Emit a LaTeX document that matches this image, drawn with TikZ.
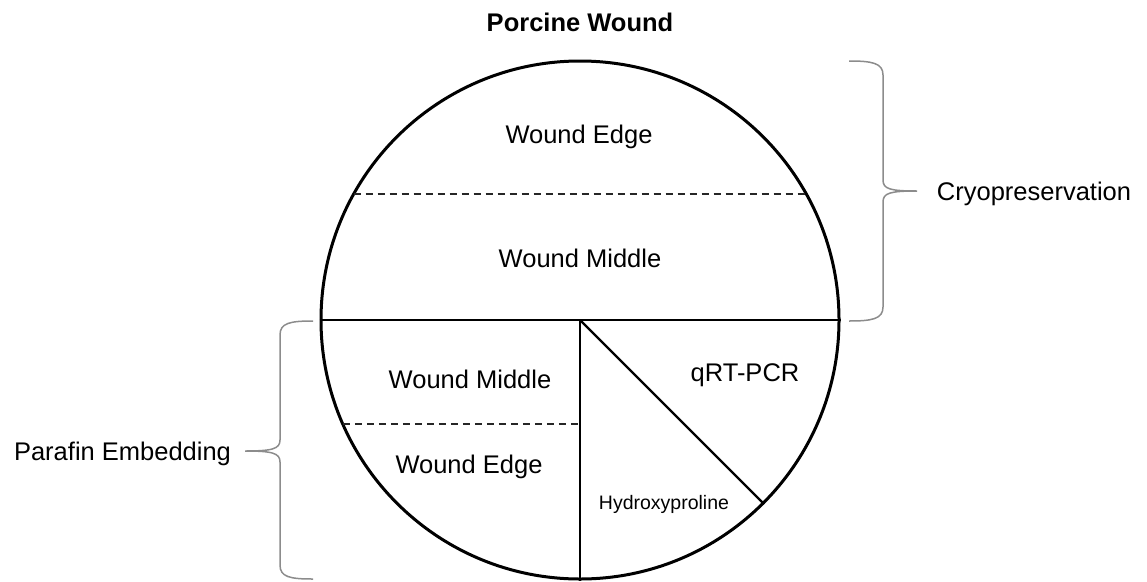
\documentclass[tikz,border=0pt]{standalone}
\usepackage{fontspec}
\setmainfont{Liberation Sans}
\begin{document}
\begin{tikzpicture}[x=1pt,y=-1pt,
  lbl/.style={font=\fontsize{25.5}{30}\selectfont, anchor=base, inner sep=0pt},
  small/.style={font=\fontsize{19.5}{23}\selectfont, anchor=base, inner sep=0pt},
  ttl/.style={font=\fontsize{25.5}{30}\selectfont\bfseries, anchor=base, inner sep=0pt},
  solidline/.style={line width=2.4pt, black},
  dashline/.style={line width=1.4pt, black!85, dash pattern=on 7pt off 5pt},
  bracestyle/.style={line width=1.5pt, black!45}]
\useasboundingbox (0,0) rectangle (1147,581);
\node[circle, draw, line width=3pt, minimum size=518pt, inner sep=0pt] (disc) at (580,320) {};
% cuts
\draw[solidline] (disc.west) -- (disc.east);
\coordinate (c) at (disc.center);
\draw[solidline] (c) -- (disc.south);
\draw[solidline] (c) -- (disc.-45);
\coordinate (d1l) at (353.7,194);
\coordinate (d1r) at (806.3,194);
\draw[dashline] (d1l) -- (d1r);
\coordinate (d2l) at (342.8,424);
\coordinate (d2r) at (580,424);
\draw[dashline] (d2l) -- (d2r);
% labels
\node[ttl] (title) at (580,31.5) {Porcine Wound};
\node[lbl] (we1) at (579,143) {Wound Edge};
\node[lbl] (wm1) at (580,267) {Wound Middle};
\node[lbl] (wm2) at (470,388) {Wound Middle};
\node[lbl] (we2) at (469,473) {Wound Edge};
\node[lbl] (qrt) at (745,381) {qRT-PCR};
\node[small] (hyd) at (664,509) {Hydroxyproline};
\node[lbl] (cryo) at (1034,200) {Cryopreservation};
\node[lbl] (para) at (122.5,460) {Parafin Embedding};
% right brace
\coordinate (rb1) at (849,61);
\coordinate (rbt) at (917,191);
\coordinate (rb2) at (849,321);
\draw[bracestyle] (rb1) .. controls (872,61) and (883,63) .. (883,75)
  -- (883,180) .. controls (883,189) and (890,191) .. (rbt)
  .. controls (890,191) and (883,193) .. (883,202)
  -- (883,307) .. controls (883,319) and (872,321) .. (rb2);
% left brace
\coordinate (lb1) at (313,321);
\coordinate (lbt) at (245,451);
\coordinate (lb2) at (313,579);
\draw[bracestyle] (lb1) .. controls (290,321) and (280,323) .. (280,335)
  -- (280,440) .. controls (280,449) and (272,451) .. (lbt)
  .. controls (272,451) and (280,453) .. (280,462)
  -- (280,565) .. controls (280,577) and (290,579) .. (lb2);
\end{tikzpicture}
\end{document}
